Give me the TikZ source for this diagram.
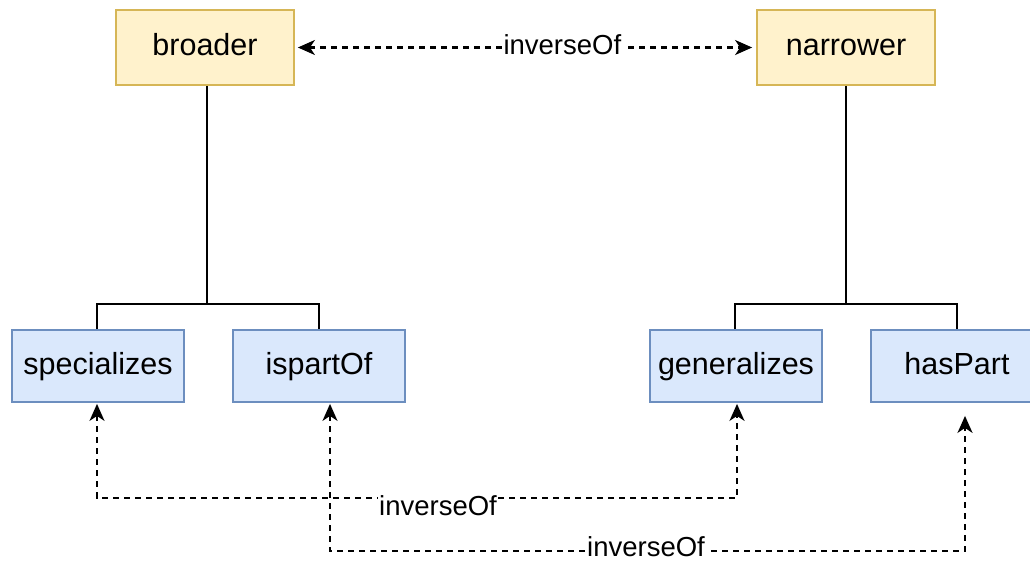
\documentclass[tikz,border=0pt]{standalone}
\usepackage{fontspec}
\setmainfont{Liberation Sans}
\usetikzlibrary{arrows.meta,positioning}
\definecolor{yfill}{HTML}{FFF2CC}
\definecolor{ydraw}{HTML}{D6B656}
\definecolor{bfill}{HTML}{DAE8FC}
\definecolor{bdraw}{HTML}{6C8EBF}
\tikzset{
  ybox/.style={draw=ydraw,fill=yfill,line width=1.8pt,minimum width=178pt,minimum height=75pt,inner sep=0pt,text height=22pt,text depth=6pt,font=\fontsize{30.5}{34}\selectfont},
  bbox/.style={draw=bdraw,fill=bfill,line width=1.8pt,minimum width=172pt,minimum height=72pt,inner sep=0pt,text height=22pt,text depth=6pt,font=\fontsize{30.5}{34}\selectfont},
  treeline/.style={line width=2.2pt,black},
  invline/.style={line width=2.2pt,black,dash pattern=on 6pt off 5pt,{Stealth[length=17pt,width=15pt,inset=5pt]}-{Stealth[length=17pt,width=15pt,inset=5pt]}},
  lbl/.style={fill=white,inner sep=1.5pt,text height=19pt,text depth=5pt,font=\fontsize{27.5}{30}\selectfont}
}
\begin{document}
\begin{tikzpicture}[x=1pt,y=-1pt]
\useasboundingbox (0,0) rectangle (1030,563);
\clip (0,0) rectangle (1030,563);
\fill[white] (0,0) rectangle (1030,563);
\node[ybox] (broader) at (205,47.5) {broader};
\node[ybox] (narrower) at (846,47.5) {narrower};
\node[bbox] (specializes) at (98,366) {specializes};
\node[bbox] (ispartOf) at (319,366) {ispartOf};
\node[bbox] (generalizes) at (736,366) {generalizes};
\node[bbox] (hasPart) at (957,366) {hasPart};
% tree connectors
\draw[treeline] ([xshift=2pt]broader.south) -- ++(0,218) coordinate (bj);
\draw[treeline] ([xshift=-1pt]specializes.north) |- (bj) -| (ispartOf.north);
\draw[treeline] (narrower.south) -- ++(0,218) coordinate (nj);
\draw[treeline] ([xshift=-1pt]generalizes.north) |- (nj) -| (hasPart.north);
% inverseOf connectors
\draw[invline,shorten <=3pt,shorten >=4pt] (broader.east) -- node[lbl,pos=0.58] (l1) {inverseOf} (narrower.east -| narrower.west);
\draw[invline,shorten <=1pt,shorten >=1pt] ([xshift=-1pt]specializes.south) -- ++(0,95) coordinate (c1) -| ([xshift=1pt]generalizes.south);
\node[lbl] (l2) at (438,508) {inverseOf};
\draw[invline,shorten <=1pt,shorten >=13pt] ([xshift=11pt]ispartOf.south) -- ++(0,148) coordinate (c2) -| ([xshift=8pt]hasPart.south);
\node[lbl] (l3) at (646,549) {inverseOf};
\end{tikzpicture}
\end{document}
